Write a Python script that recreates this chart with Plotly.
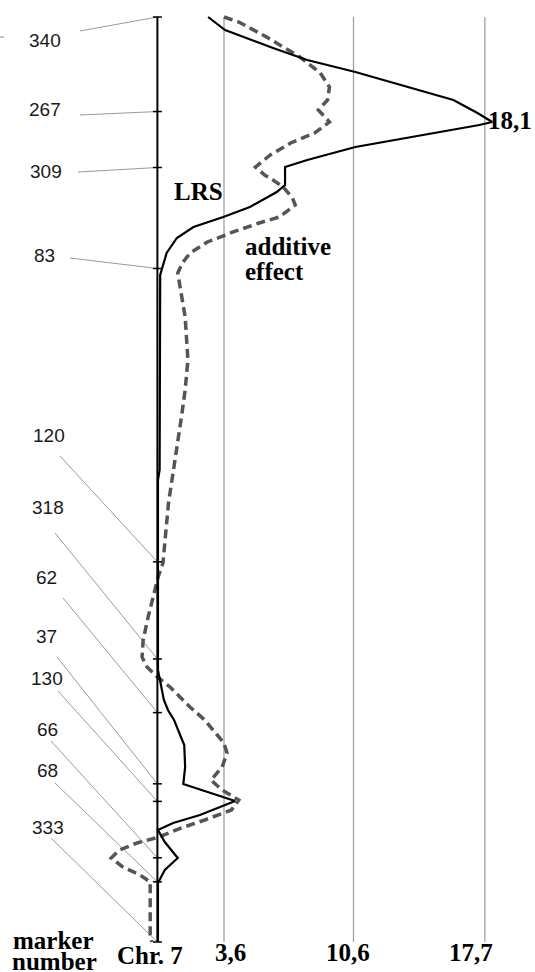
import plotly.graph_objects as go

# ---------------- data ----------------
marker_names = ["340", "267", "309", "83", "120", "318", "62", "37", "130", "66", "68", "333"]
marker_pos = [0.0, 10.22, 16.27, 27.19, 58.9, 69.4, 75.2, 82.9, 84.8, 90.9, 93.5, 100.0]

grid_values = [3.6, 10.6, 17.7]
grid_labels = ["3,6", "10,6", "17,7"]
peak_value = 18.1

lrs_pos = [0.0, 1.41, 3.35, 4.65, 5.95, 7.57, 8.97, 10.38, 11.35, 11.68, 12.43, 14.05,
           15.46, 16.22, 18.16, 18.92, 20.54, 21.62, 22.70, 23.89, 25.51, 27.03, 27.89,
           48.97, 50.05, 70.59, 72.22, 73.84, 74.92, 76.0, 78.70, 81.08, 82.92, 84.76,
           86.27, 87.14, 87.89, 89.19, 90.92, 92.22, 93.62, 100.0]
lrs_val = [2.74, 3.66, 6.25, 8.1, 10.7, 13.6, 16.0, 17.3, 18.1, 17.4, 15.3, 10.7,
           8.1, 6.9, 6.9, 6.45, 5.0, 3.56, 1.95, 1.05, 0.5, 0.25, 0.15,
           0.12, 0.03, 0.03, 0.2, 0.35, 0.57, 0.9, 1.45, 1.5, 1.4, 4.2,
           2.3, 0.85, 0.03, 0.4, 1.1, 0.4, 0.03, 0.03]

add_pos = [0.0, 0.54, 2.16, 4.32, 6.05, 7.57, 8.97, 10.05, 11.35, 12.54, 13.62, 14.92,
           16.22, 17.08, 17.62, 18.38, 19.57, 20.32, 21.62, 22.27, 23.24, 24.32, 25.51,
           26.59, 27.68, 30.59, 32.43, 37.08, 40.32, 43.24, 46.05, 48.97, 52.54, 56.86,
           59.03, 60.54, 62.70, 64.86, 67.35, 69.19, 70.27, 71.35, 72.43, 73.51, 74.59,
           76.0, 78.49, 79.57, 81.08, 82.49, 83.57, 84.65, 85.73, 86.81, 87.68, 88.65,
           89.30, 90.05, 90.92, 91.89, 92.76, 93.51, 99.24, 100.0]
add_val = [3.6, 4.4, 5.9, 7.7, 8.8, 9.3, 9.2, 8.7, 9.3, 8.5, 7.2, 6.1,
           5.3, 5.8, 6.25, 6.8, 7.3, 7.45, 6.6, 5.5, 4.1, 2.7, 1.77,
           1.35, 1.1, 1.35, 1.5, 1.65, 1.5, 1.3, 1.1, 0.86, 0.6, 0.4,
           0.3, 0.04, -0.24, -0.5, -0.77, -0.83, -0.56, 0.0, 0.68, 1.22, 1.76,
           2.56, 3.6, 3.76, 3.5, 2.9, 3.5, 4.4, 4.0, 2.56, 1.27, 0.08,
           -1.1, -2.06, -2.5, -1.87, -0.93, -0.39, -0.39, -0.3]

# ---------------- layout helpers (page pixels <-> data) ----------------
W, H = 535, 972
X0, SX = 157.4, 18.5        # pixel of value 0, pixels per unit
Y0, SY = 17.0, 9.25         # pixel of position 0, pixels per position unit


def px2x(px):
    return (px - X0) / SX


def px2y(py):
    return (py - Y0) / SY


SERIF = "Liberation Serif, Times New Roman, serif"
SANS = "Liberation Sans, Arial, sans-serif"

fig = go.Figure()

shapes = []
# grid lines
for g in grid_values:
    shapes.append(dict(type="line", xref="x", yref="y", x0=g, x1=g, y0=marker_pos[0], y1=marker_pos[-1],
                       line=dict(color="#a0a0a0", width=1.3), layer="below"))

# leader lines from label to marker tick
label_anchor = [(80, 31), (80, 115), (78, 172), (70, 258), (60, 456), (55, 533),
                (63, 598), (57, 657), (58, 691), (51, 741), (55, 783), (51, 838)]
for (lx, ly), p in zip(label_anchor, marker_pos):
    shapes.append(dict(type="line", xref="x", yref="y", x0=px2x(lx), y0=px2y(ly), x1=0, y1=p,
                       line=dict(color="#9a9a9a", width=1), layer="below"))

# stray mark at left edge
shapes.append(dict(type="line", xref="x", yref="y", x0=px2x(0), x1=px2x(4), y0=px2y(37), y1=px2y(37),
                   line=dict(color="#888888", width=1)))

# chromosome axis
shapes.append(dict(type="line", xref="x", yref="y", x0=0, x1=0, y0=marker_pos[0], y1=marker_pos[-1],
                   line=dict(color="black", width=2)))
# ticks
tick_half = 4.5 / SX
for p in marker_pos:
    shapes.append(dict(type="line", xref="x", yref="y", x0=-tick_half, x1=tick_half, y0=p, y1=p,
                       line=dict(color="black", width=1.5)))

# curves
fig.add_trace(go.Scatter(x=add_val, y=add_pos, mode="lines",
                         line=dict(color="#555555", width=3.5, dash="9px,5px"),
                         hoverinfo="skip", showlegend=False))
fig.add_trace(go.Scatter(x=lrs_val, y=lrs_pos, mode="lines",
                         line=dict(color="black", width=2.2),
                         hoverinfo="skip", showlegend=False))

annotations = []


def text(px, py, s, font, size, xanchor="center", color="black"):
    annotations.append(dict(x=px / W, y=1 - py / H, xref="paper", yref="paper", text=s,
                            showarrow=False, xanchor=xanchor, yanchor="middle",
                            font=dict(family=font, size=size, color=color)))


# marker labels
label_center = [(45, 40), (45, 109), (46, 171), (44, 255), (49, 435), (48, 508),
                (46, 577), (46, 636), (47, 678), (47, 729), (47, 770), (48, 827)]
for (cx, cy), name in zip(label_center, marker_names):
    text(cx, cy, name, SANS, 19, color="#1a1a1a")

# bold serif texts
text(198, 191, "<b>LRS</b>", SERIF, 25)
text(243, 247, "<b>additive</b>", SERIF, 25, xanchor="left")
text(243, 271, "<b>effect</b>", SERIF, 25, xanchor="left")
text(534, 121, "<b>%s</b>" % str(peak_value).replace(".", ","), SERIF, 25, xanchor="right")
text(53, 940, "<b>marker</b>", SERIF, 25)
text(54, 961, "<b>number</b>", SERIF, 25)
text(150, 955, "<b>Chr. 7</b>", SERIF, 25)
grid_label_px = [230, 348, 471]
for g, lab, cx in zip(grid_values, grid_labels, grid_label_px):
    text(cx, 952, "<b>%s</b>" % lab, SERIF, 25)

fig.update_layout(
    width=W, height=H,
    margin=dict(l=0, r=0, t=0, b=0),
    paper_bgcolor="white", plot_bgcolor="white",
    shapes=shapes, annotations=annotations,
    xaxis=dict(range=[px2x(0), px2x(W)], visible=False, fixedrange=True),
    yaxis=dict(range=[px2y(H), px2y(0)], visible=False, fixedrange=True),
)

fig.write_html("out.html", config={"displayModeBar": False},
               post_script="document.body.style.margin='0';document.body.style.overflow='hidden';")
